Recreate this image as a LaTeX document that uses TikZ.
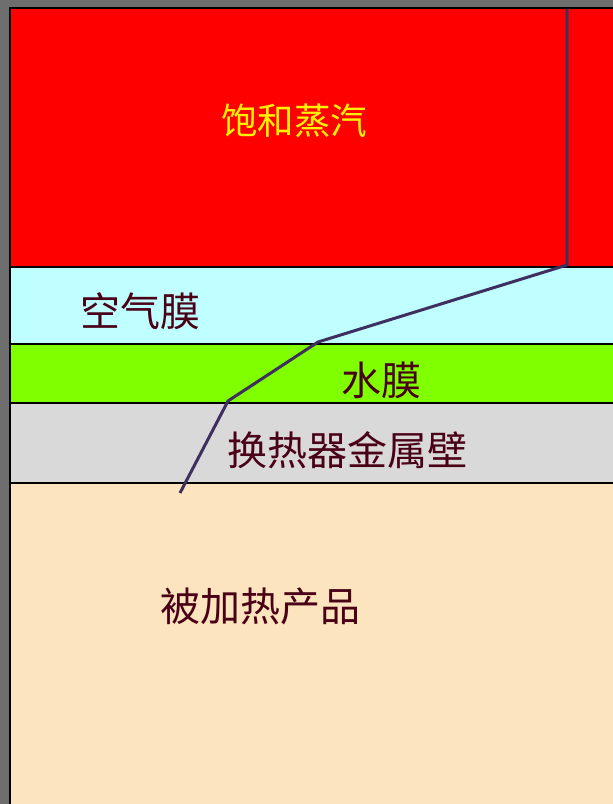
\documentclass[tikz,border=0pt]{standalone}
\usepackage{fontspec}
\newfontfamily\cjk{Noto Sans CJK SC}
\definecolor{bggray}{HTML}{6E6E6E}
\definecolor{steam}{HTML}{FF0000}
\definecolor{airfilm}{HTML}{C0FFFF}
\definecolor{waterfilm}{HTML}{80FF00}
\definecolor{metalwall}{HTML}{D9D9D9}
\definecolor{product}{HTML}{FCE4BE}
\definecolor{maroon}{HTML}{4A0016}
\definecolor{templine}{HTML}{3F2F60}
\begin{document}
\begin{tikzpicture}[x=1pt,y=-1pt,
  layer/.style={draw=black,line width=2.8pt},
  lbl/.style={font=\cjk\fontsize{40}{42}\selectfont,text=maroon,inner sep=0pt},
  toplbl/.style={font=\cjk\fontsize{36.5}{38}\selectfont,text=yellow,inner sep=0pt},
  templine/.style={draw=templine,line width=3pt,line join=round}]
\useasboundingbox (0,0) rectangle (613,804);
\fill[bggray] (0,0) rectangle (613,804);
\filldraw[layer,fill=steam] (10,8) rectangle (620,267);
\filldraw[layer,fill=airfilm] (10,267) rectangle (620,344);
\filldraw[layer,fill=waterfilm] (10,344) rectangle (620,403);
\filldraw[layer,fill=metalwall] (10,403) rectangle (620,483);
\filldraw[layer,fill=product] (10,483) rectangle (620,812);
\node[toplbl] (t1) at (294,121) {饱和蒸汽};
\node[lbl] (t2) at (140,311) {空气膜};
\node[lbl] (t3) at (381,380) {水膜};
\node[lbl] (t4) at (347,450) {换热器金属壁};
\node[lbl] (t5) at (260,606) {被加热产品};
\coordinate (p0) at (567,9);
\coordinate (p1) at (567,265);
\coordinate (p2) at (318,342);
\coordinate (p3) at (228,401);
\coordinate (p4) at (180,493);
\draw[templine] (p0) -- (p1) -- (p2) -- (p3) -- (p4);
\end{tikzpicture}
\end{document}
